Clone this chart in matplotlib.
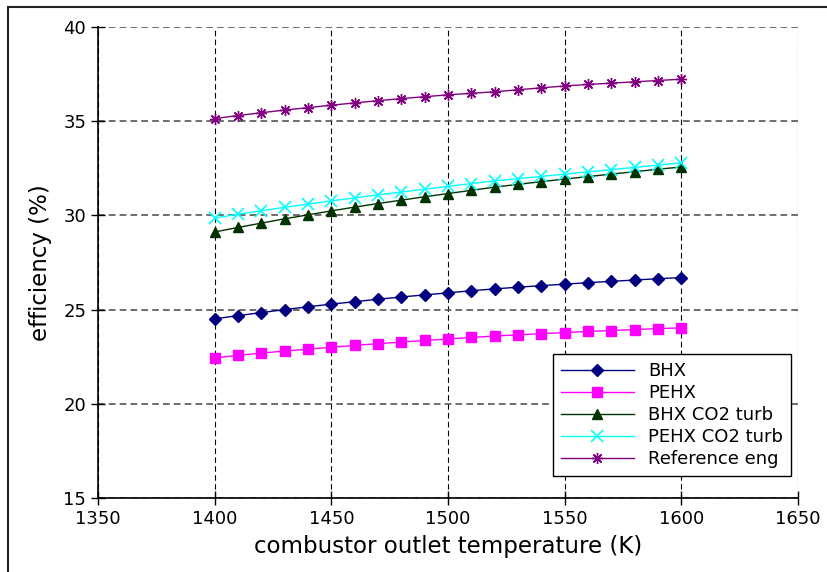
import matplotlib
matplotlib.use('Agg')
import matplotlib.pyplot as plt
from matplotlib.patches import Rectangle

temperature = [1400, 1410, 1420, 1430, 1440, 1450, 1460, 1470, 1480, 1490, 1500,
               1510, 1520, 1530, 1540, 1550, 1560, 1570, 1580, 1590, 1600]

bhx = [24.51, 24.68, 24.84, 25.00, 25.15, 25.29, 25.42, 25.55, 25.67, 25.78, 25.89,
       26.00, 26.10, 26.19, 26.27, 26.35, 26.43, 26.50, 26.57, 26.64, 26.70]
pehx = [22.44, 22.57, 22.69, 22.80, 22.90, 23.00, 23.10, 23.19, 23.28, 23.36, 23.44,
        23.52, 23.60, 23.66, 23.72, 23.78, 23.84, 23.89, 23.94, 23.99, 24.03]
bhx_co2 = [29.12, 29.36, 29.59, 29.82, 30.03, 30.24, 30.44, 30.63, 30.81, 30.99, 31.16,
           31.33, 31.50, 31.65, 31.79, 31.93, 32.06, 32.19, 32.32, 32.45, 32.57]
pehx_co2 = [29.86, 30.06, 30.25, 30.43, 30.60, 30.77, 30.93, 31.09, 31.24, 31.39, 31.54,
            31.69, 31.83, 31.95, 32.07, 32.19, 32.31, 32.43, 32.55, 32.67, 32.79]
reference = [35.14, 35.30, 35.45, 35.59, 35.72, 35.85, 35.97, 36.09, 36.20, 36.30, 36.40,
             36.48, 36.56, 36.67, 36.77, 36.87, 36.95, 37.02, 37.09, 37.16, 37.23]

x_ticks = [1350, 1400, 1450, 1500, 1550, 1600, 1650]
y_ticks = [15, 20, 25, 30, 35, 40]

fig = plt.figure(figsize=(8.28, 5.72), dpi=100)
ax = fig.add_axes([98 / 828, 1 - 498 / 572, 700 / 828, 471 / 572])

# outer frame of the figure (cut off at right and bottom)
fig.patches.append(Rectangle((8 / 828, -0.1), 1.2, 1 - 7 / 572 + 0.1,
                             transform=fig.transFigure, fill=False,
                             edgecolor='#222222', linewidth=1.5))

ax.plot(temperature, bhx, color='#000080', marker='D', markersize=6,
        linewidth=1, label='BHX')
ax.plot(temperature, pehx, color='#ff00ff', marker='s', markersize=7.5,
        linewidth=1, label='PEHX')
ax.plot(temperature, bhx_co2, color='#003300', marker='^', markersize=7.5,
        linewidth=1, label='BHX CO2 turb')
ax.plot(temperature, pehx_co2, color='#00ffff', marker='x', markersize=8,
        markeredgewidth=1.2, linewidth=1, label='PEHX CO2 turb')
ax.plot(temperature, reference, color='#800080', marker=(8, 2, 0), markersize=8,
        markeredgewidth=1, linewidth=1, label='Reference eng')

ax.set_xlim(1350, 1650)
ax.set_ylim(15, 40)
ax.set_xticks(x_ticks)
ax.set_yticks(y_ticks)
ax.tick_params(direction='inout', length=10, width=1, labelsize=13,
               top=False, right=False)

ax.yaxis.grid(True, color='#555555', linestyle=(0, (4, 2.5)), linewidth=1.2)
ax.xaxis.grid(True, color='black', linestyle=(0, (5, 3)), linewidth=0.8)
ax.spines['top'].set_visible(False)
ax.spines['right'].set_visible(False)
ax.spines['left'].set_linewidth(1.2)
ax.spines['bottom'].set_linewidth(1.2)

ax.set_xlabel('combustor outlet temperature (K)', fontsize=16.5, labelpad=5)
ax.set_ylabel('efficiency (%)', fontsize=16.5, labelpad=8)

leg = ax.legend(loc='lower right', fontsize=13, fancybox=False, framealpha=1,
                edgecolor='black', handlelength=4, borderpad=0.45,
                labelspacing=0.22, bbox_to_anchor=(1.003, 0.027))
leg.get_frame().set_linewidth(1.0)

fig.savefig('out.png', dpi=100)
